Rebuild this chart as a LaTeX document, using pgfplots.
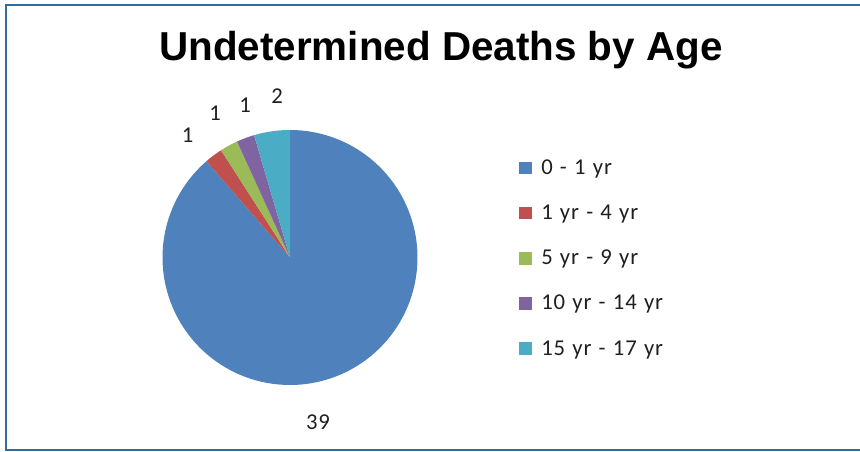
\documentclass[border=0pt]{standalone}
\usepackage{pgfplots}
\pgfplotsset{compat=1.18}
\usepackage{fontspec}
\setmainfont{Carlito}[LetterSpace=4, WordSpace=1.2]
\newfontfamily\titlefont{Liberation Sans}
\definecolor{c1}{HTML}{4F81BD}
\definecolor{c2}{HTML}{C0504D}
\definecolor{c3}{HTML}{9BBB59}
\definecolor{c4}{HTML}{8064A2}
\definecolor{c5}{HTML}{4BACC6}
\definecolor{frame}{HTML}{2A6FA0}
% data values
\def\va{39}\def\vb{1}\def\vc{1}\def\vd{1}\def\ve{2}
\pgfmathsetmacro{\tot}{\va+\vb+\vc+\vd+\ve}
\pgfmathsetmacro{\aO}{90}
\pgfmathsetmacro{\aA}{\aO-360*\va/\tot}
\pgfmathsetmacro{\aB}{\aA-360*\vb/\tot}
\pgfmathsetmacro{\aC}{\aB-360*\vc/\tot}
\pgfmathsetmacro{\aD}{\aC-360*\vd/\tot}
\pgfmathsetmacro{\aE}{\aD-360*\ve/\tot}
\def\cx{290}\def\cy{193.5}\def\R{127.5}
\begin{document}
\begin{tikzpicture}
\begin{axis}[name=ax,
  scale only axis, width=645pt, height=338.25pt,
  xmin=0, xmax=860, ymin=0, ymax=451,
  hide axis, clip=false,
  legend style={draw=none, fill=none, at={(axis cs:515,297)}, anchor=north west,
    font=\fontsize{17}{19}\selectfont, text=black!88, row sep=17.4pt,
    /tikz/every odd column/.append style={column sep=5pt}},
  legend cell align=left,
  legend image code/.code={\fill[#1] (0pt,-4.75pt) rectangle (9.5pt,4.75pt);},
]
\addplot[fill=c1, draw=none, domain=\aA:\aO, samples=160, variable=\t]
  ({\cx+\R*cos(\t)},{\cy+\R*sin(\t)}) -- (\cx,\cy) -- cycle;
\addlegendentry{0 - 1 yr}
\addplot[fill=c2, draw=none, domain=\aB:\aA, samples=10, variable=\t]
  ({\cx+\R*cos(\t)},{\cy+\R*sin(\t)}) -- (\cx,\cy) -- cycle;
\addlegendentry{1 yr - 4 yr}
\addplot[fill=c3, draw=none, domain=\aC:\aB, samples=10, variable=\t]
  ({\cx+\R*cos(\t)},{\cy+\R*sin(\t)}) -- (\cx,\cy) -- cycle;
\addlegendentry{5 yr - 9 yr}
\addplot[fill=c4, draw=none, domain=\aD:\aC, samples=10, variable=\t]
  ({\cx+\R*cos(\t)},{\cy+\R*sin(\t)}) -- (\cx,\cy) -- cycle;
\addlegendentry{10 yr - 14 yr}
\addplot[fill=c5, draw=none, domain=\aE:\aD, samples=16, variable=\t]
  ({\cx+\R*cos(\t)},{\cy+\R*sin(\t)}) -- (\cx,\cy) -- cycle;
\addlegendentry{15 yr - 17 yr}
% data labels
\begin{scope}[every node/.style={font=\fontsize{17}{19}\selectfont, text=black!88}]
\node at (axis cs:318,29) {39};
\node at (axis cs:187.5,316) {1};
\node at (axis cs:215,338) {1};
\node at (axis cs:245,346) {1};
\node at (axis cs:277,355) {2};
\end{scope}
\node at (axis cs:441,401) {\titlefont\bfseries\fontsize{30.3}{33}\selectfont Undetermined Deaths by Age};
\draw[frame, line width=1.5pt] (axis cs:860,446) -- (axis cs:6,446) -- (axis cs:6,1) -- (axis cs:860,1);
\end{axis}
\pgfresetboundingbox
\path[use as bounding box] (ax.south west) rectangle (ax.north east);
\end{tikzpicture}
\end{document}
